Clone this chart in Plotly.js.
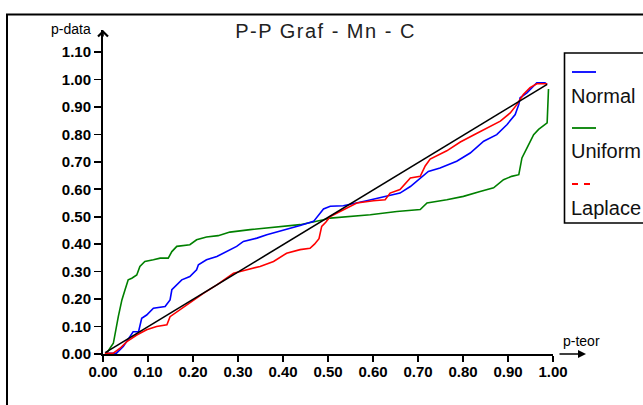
<!DOCTYPE html>
<html>
<head>
<meta charset="utf-8">
<script src="https://cdn.plot.ly/plotly-3.0.1.min.js"></script>
<style>
html,body{margin:0;padding:0;background:#fff;}
#chart{width:643px;height:405px;}
.gtitle{letter-spacing:1.5px;}
</style>
</head>
<body>
<div id="chart"></div>
<script>
// ---- data ----
var normX = [0.008,0.03,0.045,0.06,0.067,0.079,0.086,0.097,0.112,0.138,0.149,0.153,0.16,0.175,0.193,0.208,0.212,0.23,0.253,0.275,0.297,0.312,0.342,0.364,0.401,0.438,0.468,0.49,0.505,0.534,0.586,0.631,0.66,0.683,0.705,0.723,0.749,0.786,0.816,0.846,0.875,0.898,0.916,0.924,0.927,0.942,0.964,0.982,0.987];
var normY = [0.003,0.003,0.027,0.063,0.081,0.081,0.13,0.142,0.167,0.173,0.197,0.234,0.246,0.27,0.282,0.307,0.325,0.343,0.355,0.373,0.392,0.41,0.422,0.434,0.45,0.468,0.483,0.528,0.538,0.54,0.558,0.574,0.586,0.61,0.641,0.665,0.677,0.702,0.732,0.775,0.799,0.836,0.872,0.909,0.933,0.951,0.988,0.988,0.982];

var unifX = [0.008,0.023,0.034,0.042,0.049,0.056,0.064,0.075,0.082,0.093,0.112,0.127,0.145,0.153,0.164,0.179,0.193,0.208,0.23,0.256,0.282,0.327,0.364,0.401,0.438,0.49,0.505,0.594,0.653,0.705,0.72,0.764,0.801,0.838,0.868,0.89,0.908,0.924,0.931,0.942,0.957,0.968,0.987,0.99];
var unifY = [0.003,0.039,0.136,0.197,0.234,0.27,0.276,0.288,0.319,0.337,0.343,0.349,0.349,0.373,0.392,0.394,0.398,0.416,0.426,0.431,0.444,0.453,0.459,0.467,0.471,0.489,0.495,0.507,0.519,0.526,0.55,0.562,0.574,0.592,0.605,0.635,0.647,0.653,0.714,0.75,0.799,0.818,0.842,0.965];

var lapX = [0.004,0.023,0.038,0.053,0.075,0.097,0.119,0.142,0.149,0.171,0.201,0.223,0.253,0.29,0.32,0.349,0.379,0.408,0.438,0.46,0.47,0.48,0.486,0.495,0.505,0.542,0.564,0.601,0.627,0.638,0.66,0.683,0.705,0.716,0.727,0.764,0.794,0.83,0.853,0.883,0.905,0.92,0.934,0.949,0.964,0.987];
var lapY = [0.003,0.003,0.021,0.045,0.069,0.088,0.1,0.106,0.136,0.161,0.197,0.221,0.252,0.294,0.307,0.319,0.337,0.367,0.38,0.385,0.40,0.42,0.465,0.48,0.501,0.532,0.55,0.558,0.562,0.586,0.599,0.641,0.647,0.685,0.71,0.74,0.772,0.803,0.823,0.848,0.878,0.909,0.945,0.97,0.984,0.984];

var diagX = [0.005, 0.987];
var diagY = [0.005, 0.982];

var seriesNames = ["Normal", "Uniform", "Laplace"];
var xTicks = [0,0.1,0.2,0.3,0.4,0.5,0.6,0.7,0.8,0.9,1.0];
var yTicks = [0,0.1,0.2,0.3,0.4,0.5,0.6,0.7,0.8,0.9,1.0,1.1];
var chartTitle = "P-P Graf - Mn - C";
var xLabel = "p-teor";
var yLabel = "p-data";

// ---- styling ----
var cBlue = "#0000ff", cGreen = "#008000", cRed = "#ff0000";
var lw = 1.6;
var tickFont = {family: "Liberation Sans, Arial, sans-serif", size: 15, color: "#000", weight: "bold"};

var traces = [
  {x: unifX, y: unifY, mode: "lines", name: seriesNames[1], line: {color: cGreen, width: lw}},
  {x: normX, y: normY, mode: "lines", name: seriesNames[0], line: {color: cBlue, width: lw}},
  {x: lapX, y: lapY, mode: "lines", name: seriesNames[2], line: {color: cRed, width: lw}},
  {x: diagX, y: diagY, mode: "lines", name: "diag", line: {color: "#000", width: lw}}
];

// pixel helpers for layout decorations (plot area: x 103..553, y 30..354)
function px(p){ return (p - 103) / 450; }
function py(p){ return (354 - p) / 324; }

var legendRows = [
  {name: seriesNames[0], color: cBlue, dash: "solid", lineY: 72, textY: 96},
  {name: seriesNames[1], color: cGreen, dash: "solid", lineY: 128, textY: 151},
  {name: seriesNames[2], color: cRed, dash: "6px,6px", lineY: 184, textY: 208}
];

var shapes = [
  // outer frame
  {type: "rect", xref: "paper", yref: "paper", x0: px(7), x1: 3, y0: -2, y1: py(14.5),
   line: {color: "#000", width: 2}, fillcolor: "rgba(0,0,0,0)", layer: "below"},
  // legend box
  {type: "rect", xref: "paper", yref: "paper", x0: px(564.5), x1: 3, y0: py(223), y1: py(53),
   line: {color: "#000", width: 1.6}, fillcolor: "rgba(0,0,0,0)"}
];
var annotations = [
  {xref: "paper", yref: "paper", x: px(71), y: py(29), text: yLabel, showarrow: false,
   font: {family: "Liberation Sans, Arial, sans-serif", size: 14, color: "#000"}, xanchor: "center", yanchor: "middle"},
  {xref: "paper", yref: "paper", x: px(581), y: py(341), text: xLabel, showarrow: false,
   font: {family: "Liberation Sans, Arial, sans-serif", size: 14, color: "#000"}, xanchor: "center", yanchor: "middle"},
  // x-axis arrow
  {xref: "paper", yref: "paper", x: px(586), y: 0, ax: -28, ay: 0, axref: "pixel", ayref: "pixel",
   text: "", showarrow: true, arrowhead: 2, arrowsize: 1, arrowwidth: 1.6, arrowcolor: "#000"},
  // y-axis arrow head
  {xref: "paper", yref: "paper", x: 0, y: 1, ax: 0, ay: 8, axref: "pixel", ayref: "pixel",
   text: "", showarrow: true, arrowhead: 4, arrowsize: 1.2, arrowwidth: 1.6, arrowcolor: "#000"}
];
legendRows.forEach(function(r){
  shapes.push({type: "line", xref: "paper", yref: "paper", x0: px(572), x1: px(596), y0: py(r.lineY), y1: py(r.lineY),
    line: {color: r.color, width: 1.8, dash: r.dash}});
  annotations.push({xref: "paper", yref: "paper", x: px(569), y: py(r.textY), text: r.name, showarrow: false,
    xanchor: "left", yanchor: "middle", font: {family: "Liberation Sans, Arial, sans-serif", size: 20, color: "#111"}});
});

var layout = {
  width: 643, height: 405,
  margin: {l: 103, r: 90, t: 30, b: 51, pad: 0},
  paper_bgcolor: "#fff", plot_bgcolor: "#fff",
  showlegend: false,
  title: {text: chartTitle, x: 325.5/643, xanchor: "center", y: 1 - 31/405, yanchor: "middle", yref: "container",
          font: {family: "Liberation Sans, Arial, sans-serif", size: 20, color: "#222"}},
  xaxis: {range: [0, 1.0], showgrid: false, zeroline: false, showline: true, linecolor: "#000", linewidth: 2,
          ticks: "outside", ticklen: 6, tickwidth: 1.6, tickcolor: "#000", tickvals: xTicks, tickformat: ".2f",
          tickfont: tickFont, ticklabelstandoff: -3, fixedrange: true},
  yaxis: {range: [0, 1.18], showgrid: false, zeroline: false, showline: true, linecolor: "#000", linewidth: 2,
          ticks: "outside", ticklen: 7, tickwidth: 1.6, tickcolor: "#000", tickvals: yTicks, tickformat: ".2f",
          tickfont: tickFont, fixedrange: true},
  shapes: shapes,
  annotations: annotations
};

Plotly.newPlot("chart", traces, layout, {displayModeBar: false, staticPlot: true});
</script>
</body>
</html>
